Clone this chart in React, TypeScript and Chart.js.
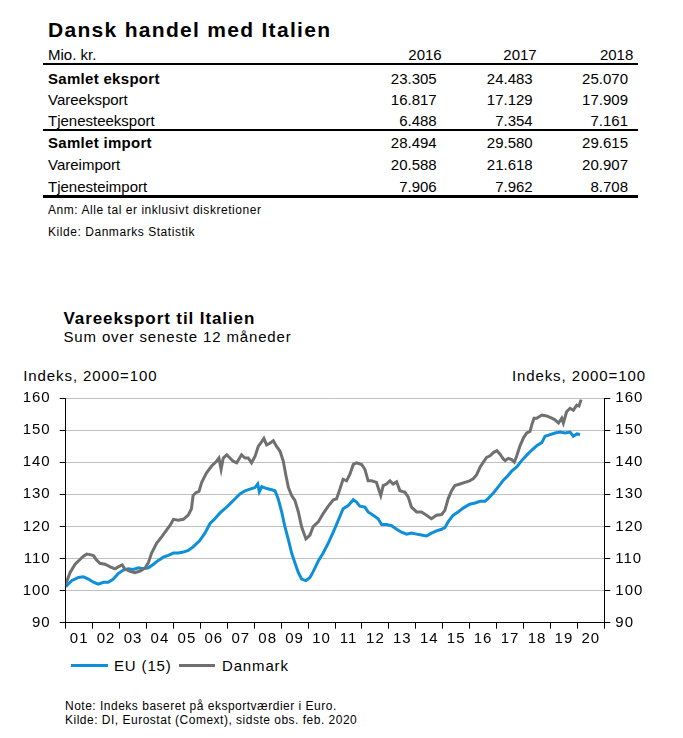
import React, { useEffect, useRef } from "react";
import { Chart, registerables } from "chart.js";

Chart.register(...registerables);

// ---------- Table data ----------
const tableTitle = "Dansk handel med Italien";
const tableUnit = "Mio. kr.";
const tableYears = ["2016", "2017", "2018"];
const rowLabels = ["Samlet eksport", "Vareeksport", "Tjenesteeksport", "Samlet import", "Vareimport", "Tjenesteimport"];
const rowBold = [true, false, false, true, false, false];
const samletEksport = [23305, 24483, 25070];
const vareeksport = [16817, 17129, 17909];
const tjenesteeksport = [6488, 7354, 7161];
const samletImport = [28494, 29580, 29615];
const vareimport = [20588, 21618, 20907];
const tjenesteimport = [7906, 7962, 8708];
const tableRows = [samletEksport, vareeksport, tjenesteeksport, samletImport, vareimport, tjenesteimport];

// ---------- Chart data (decimal years, index 2000=100) ----------
const euYears = [
  2001.0, 2001.22, 2001.47, 2001.66, 2001.84, 2002.03, 2002.21, 2002.4, 2002.58, 2002.77, 2002.95,
  2003.14, 2003.32, 2003.51, 2003.7, 2003.88, 2004.07, 2004.26, 2004.44, 2004.63, 2004.81, 2005.0,
  2005.18, 2005.37, 2005.55, 2005.73, 2005.97, 2006.17, 2006.36, 2006.54, 2006.73, 2006.91, 2007.1,
  2007.29, 2007.47, 2007.66, 2007.84, 2008.03, 2008.13, 2008.19, 2008.28, 2008.46, 2008.65, 2008.77,
  2008.89, 2009.02, 2009.14, 2009.27, 2009.39, 2009.51, 2009.64, 2009.76, 2009.92, 2010.07, 2010.19,
  2010.38, 2010.56, 2010.75, 2010.94, 2011.12, 2011.3, 2011.49, 2011.68, 2011.8, 2011.92, 2012.11,
  2012.23, 2012.42, 2012.6, 2012.73, 2012.91, 2013.1, 2013.29, 2013.47, 2013.66, 2013.84, 2014.03,
  2014.21, 2014.4, 2014.58, 2014.77, 2014.96, 2015.08, 2015.2, 2015.39, 2015.57, 2015.76, 2016.0,
  2016.2, 2016.39, 2016.57, 2016.7, 2016.88, 2017.07, 2017.25, 2017.38, 2017.56, 2017.75, 2017.93,
  2018.12, 2018.31, 2018.49, 2018.68, 2018.8, 2018.99, 2019.17, 2019.36, 2019.54, 2019.73, 2019.85,
  2019.98, 2020.1,
];
const euValues = [
  101.2, 103.1, 104.1, 104.3, 103.6, 102.6, 102.0, 102.6, 102.6, 103.6, 105.3,
  106.4, 106.8, 106.6, 107.1, 106.8, 107.1, 108.2, 109.4, 110.4, 111.0, 111.7,
  111.7, 112.0, 112.5, 113.6, 115.5, 117.9, 120.9, 122.4, 124.2, 125.5, 127.0,
  128.6, 130.1, 131.1, 131.6, 132.1, 133.2, 130.8, 132.4, 131.8, 131.4, 131.1,
  128.6, 124.5, 119.9, 115.8, 111.7, 108.7, 105.6, 103.6, 103.1, 104.1, 105.9,
  109.2, 111.7, 114.8, 118.3, 121.9, 125.5, 126.5, 128.3, 127.6, 126.3, 126.0,
  124.5, 123.5, 122.4, 120.6, 120.6, 120.2, 119.1, 118.2, 117.6, 117.9, 117.6,
  117.3, 117.0, 117.9, 118.6, 119.1, 119.6, 121.4, 123.5, 124.5, 125.7, 126.9,
  127.3, 127.8, 127.8, 128.8, 130.4, 132.4, 134.4, 135.4, 137.2, 138.5, 140.5,
  142.2, 143.8, 145.1, 146.1, 148.1, 148.6, 149.1, 149.4, 149.1, 149.4, 148.1,
  148.8, 148.6,
];
const dkYears = [
  2001.0, 2001.16, 2001.35, 2001.53, 2001.66, 2001.78, 2001.9, 2002.03, 2002.13, 2002.27, 2002.46,
  2002.65, 2002.83, 2002.95, 2003.1, 2003.2, 2003.39, 2003.57, 2003.76, 2003.95, 2004.07, 2004.19,
  2004.38, 2004.57, 2004.75, 2004.88, 2005.0, 2005.18, 2005.37, 2005.55, 2005.67, 2005.73, 2005.83,
  2005.95, 2006.05, 2006.23, 2006.42, 2006.6, 2006.69, 2006.77, 2006.85, 2006.98, 2007.1, 2007.22,
  2007.35, 2007.53, 2007.66, 2007.78, 2007.9, 2008.03, 2008.15, 2008.28, 2008.36, 2008.46, 2008.58,
  2008.71, 2008.83, 2008.96, 2009.08, 2009.17, 2009.27, 2009.39, 2009.51, 2009.64, 2009.76, 2009.92,
  2010.07, 2010.19, 2010.38, 2010.56, 2010.75, 2010.94, 2011.06, 2011.18, 2011.3, 2011.43, 2011.55,
  2011.68, 2011.8, 2011.99, 2012.11, 2012.23, 2012.36, 2012.54, 2012.7, 2012.79, 2012.91, 2013.04,
  2013.16, 2013.29, 2013.41, 2013.6, 2013.72, 2013.84, 2014.03, 2014.21, 2014.4, 2014.58, 2014.77,
  2014.96, 2015.08, 2015.2, 2015.33, 2015.45, 2015.64, 2015.82, 2016.0, 2016.14, 2016.26, 2016.39,
  2016.51, 2016.63, 2016.76, 2016.88, 2017.01, 2017.13, 2017.25, 2017.32, 2017.44, 2017.56, 2017.66,
  2017.75, 2017.87, 2018.0, 2018.12, 2018.24, 2018.31, 2018.39, 2018.49, 2018.68, 2018.86, 2019.05,
  2019.17, 2019.3, 2019.42, 2019.48, 2019.6, 2019.73, 2019.85, 2019.98, 2020.06, 2020.14,
];
const dkValues = [
  102.0, 105.6, 108.2, 109.7, 110.7, 111.4, 111.2, 110.9, 109.7, 108.5, 108.2,
  107.4, 106.8, 107.4, 108.0, 106.7, 106.0, 105.6, 106.1, 107.1, 108.7, 111.7,
  114.8, 116.8, 118.9, 120.4, 122.2, 121.9, 122.2, 123.5, 125.5, 129.6, 130.5,
  130.9, 133.7, 136.7, 138.8, 140.3, 141.3, 137.8, 141.3, 142.3, 141.3, 140.3,
  139.8, 142.3, 141.3, 141.3, 139.8, 141.8, 144.9, 146.4, 147.4, 145.4, 145.9,
  146.7, 144.9, 143.4, 140.3, 136.2, 132.1, 129.6, 128.1, 124.5, 119.9, 116.1,
  117.3, 119.9, 121.4, 124.0, 126.3, 128.3, 128.6, 131.6, 134.7, 134.2, 136.2,
  139.3, 139.8, 139.3, 137.8, 134.2, 134.2, 133.7, 129.6, 132.7, 133.2, 134.2,
  133.2, 133.9, 131.1, 130.6, 129.1, 126.0, 124.5, 124.5, 123.5, 122.4, 123.5,
  123.7, 125.0, 128.6, 131.1, 132.7, 133.2, 133.7, 134.2, 134.9, 136.1, 138.5,
  140.0, 141.5, 142.0, 143.0, 143.6, 142.5, 141.0, 140.5, 141.2, 140.8, 140.0,
  142.0, 145.1, 147.6, 149.1, 149.6, 151.7, 153.7, 153.7, 154.7, 154.4, 153.7,
  153.2, 152.2, 153.7, 152.2, 155.7, 156.8, 156.2, 157.8, 157.5, 159.5,
];
const yearBoundaries = [2001, 2002, 2003, 2004, 2005, 2006, 2007, 2008, 2009, 2010, 2011, 2012, 2013, 2014, 2015, 2016, 2017, 2018, 2019, 2020, 2021];
const xTickLabels = ["01", "02", "03", "04", "05", "06", "07", "08", "09", "10", "11", "12", "13", "14", "15", "16", "17", "18", "19", "20"];
const yTicks = [90, 100, 110, 120, 130, 140, 150, 160];

const FONT = "'Liberation Sans', Arial, Helvetica, sans-serif";
const EU_COLOR = "#0d8fd9";
const DK_COLOR = "#707070";
const W = 683;

function fmt(n: number): string {
  return n.toString().replace(/\B(?=(\d{3})+(?!\d))/g, ".");
}

type TProps = { x?: number; r?: number; cy: number; size: number; bold?: boolean; ls?: number; children: React.ReactNode };
function T({ x, r, cy, size, bold, ls, children }: TProps) {
  const style: React.CSSProperties = {
    position: "absolute",
    top: cy - 0.4885 * size,
    fontSize: size,
    lineHeight: `${size}px`,
    fontFamily: FONT,
    fontWeight: bold ? 700 : 400,
    whiteSpace: "nowrap",
    color: "#000",
    letterSpacing: ls ? `${ls}px` : undefined,
  };
  if (r !== undefined) style.right = W - r;
  else style.left = x;
  return <div style={style}>{children}</div>;
}

function HLine({ y, h }: { y: number; h: number }) {
  return <div style={{ position: "absolute", left: 43, width: 595, top: y, height: h, background: "#000" }} />;
}

const headerRight = [441.7, 536.7, 633.3];
const valueRight = [436.7, 532.7, 628];
const rowCy = [78.3, 99.3, 120, 142.3, 164, 186.7];

function LineChart() {
  const ref = useRef<HTMLCanvasElement>(null);
  useEffect(() => {
    const canvas = ref.current;
    if (!canvas) return;
    const labelPos = yearBoundaries.slice(0, -1).map((v) => v + 0.5);
    const tickFont = { size: 15, family: FONT };
    const spacingPlugin = {
      id: "spacing",
      beforeDraw(chart: any) {
        try {
          chart.ctx.letterSpacing = "1px";
        } catch (e) {}
      },
    };
    const chart = new Chart(canvas, {
      type: "line",
      data: {
        datasets: [
          {
            label: "Danmark",
            data: dkYears.map((x, i) => ({ x, y: dkValues[i] })),
            borderColor: DK_COLOR,
            borderWidth: 3,
            pointRadius: 0,
            tension: 0,
            fill: false,
          },
          {
            label: "EU (15)",
            data: euYears.map((x, i) => ({ x, y: euValues[i] })),
            borderColor: EU_COLOR,
            borderWidth: 3,
            pointRadius: 0,
            tension: 0,
            fill: false,
          },
        ],
      },
      options: {
        animation: false,
        responsive: false,
        maintainAspectRatio: false,
        layout: { padding: { top: 12.7, bottom: 0.3, left: 0, right: 0 } },
        plugins: { legend: { display: false }, tooltip: { enabled: false } },
        scales: {
          x: {
            type: "linear",
            position: "bottom",
            weight: 0,
            min: 2001,
            max: 2021,
            afterBuildTicks: (s: any) => {
              s.ticks = yearBoundaries.map((v) => ({ value: v }));
            },
            ticks: { display: false },
            grid: { drawOnChartArea: false, drawTicks: true, tickLength: 6, color: "#000", tickColor: "#000", lineWidth: 1 },
            border: { display: true, color: "#000", width: 1 },
            afterFit: (s: any) => {
              s.height = 6;
            },
          },
          x2: {
            type: "linear",
            position: "bottom",
            weight: 1,
            min: 2001,
            max: 2021,
            afterBuildTicks: (s: any) => {
              s.ticks = labelPos.map((v) => ({ value: v }));
            },
            ticks: {
              autoSkip: false,
              maxRotation: 0,
              minRotation: 0,
              padding: 1,
              color: "#000",
              font: tickFont,
              callback: (_v: any, i: number) => xTickLabels[i],
            },
            grid: { display: false, drawTicks: false },
            border: { display: false },
            afterFit: (s: any) => {
              s.height = 22;
            },
          },
          y: {
            type: "linear",
            position: "left",
            min: 90,
            max: 160,
            afterBuildTicks: (s: any) => {
              s.ticks = yTicks.map((v) => ({ value: v }));
            },
            ticks: { padding: 9, color: "#000", font: tickFont },
            grid: {
              color: (c: any) => (c.tick && c.tick.value === 90 ? "rgba(0,0,0,0)" : "#c0c0c0"),
              tickColor: "#000",
              tickLength: 6,
              lineWidth: 1,
            },
            border: { color: "#000", width: 1 },
            afterFit: (s: any) => {
              s.width = 65.7;
            },
          },
          y2: {
            type: "linear",
            position: "right",
            min: 90,
            max: 160,
            afterBuildTicks: (s: any) => {
              s.ticks = yTicks.map((v) => ({ value: v }));
            },
            ticks: { padding: 5, color: "#000", font: tickFont },
            grid: { drawOnChartArea: false, tickColor: "#000", color: "#000", tickLength: 6, lineWidth: 1 },
            border: { color: "#000", width: 1 },
            afterFit: (s: any) => {
              s.width = 78.7;
            },
          },
        },
      } as any,
      plugins: [spacingPlugin],
    });
    return () => chart.destroy();
  }, []);
  return (
    <canvas
      ref={ref}
      width={W}
      height={271}
      style={{ position: "absolute", left: 0, top: 380, width: W, height: 271 }}
    />
  );
}

export default function App() {
  return (
    <div style={{ position: "absolute", left: 0, top: 0, width: W, height: 738, background: "#fff", overflow: "hidden" }}>
      {/* Table */}
      <T x={48} cy={29.2} size={21} bold ls={1.3}>{tableTitle}</T>
      <T x={48} cy={54} size={15}>{tableUnit}</T>
      {tableYears.map((y, i) => (
        <T key={y} r={headerRight[i]} cy={54} size={15}>{y}</T>
      ))}
      <HLine y={63.3} h={2} />
      {rowLabels.map((lab, i) => (
        <React.Fragment key={lab}>
          <T x={48} cy={rowCy[i]} size={15} bold={rowBold[i]} ls={rowBold[i] ? 0.3 : 0}>{lab}</T>
          {tableRows[i].map((v, j) => (
            <T key={j} r={valueRight[j]} cy={rowCy[i]} size={15}>{fmt(v)}</T>
          ))}
        </React.Fragment>
      ))}
      <HLine y={128.7} h={2} />
      <HLine y={195} h={2.5} />
      <T x={48} cy={210} size={12} ls={0.55}>Anm: Alle tal er inklusivt diskretioner</T>
      <T x={48} cy={231.7} size={12} ls={0.55}>Kilde: Danmarks Statistik</T>

      {/* Chart header */}
      <T x={63.5} cy={318.8} size={17} bold ls={0.9}>Vareeksport til Italien</T>
      <T x={63.5} cy={336} size={15} ls={0.85}>Sum over seneste 12 måneder</T>
      <T x={23.3} cy={375} size={15} ls={0.9}>Indeks, 2000=100</T>
      <T r={646} cy={375} size={15} ls={0.9}>Indeks, 2000=100</T>

      <LineChart />

      {/* Legend */}
      <div style={{ position: "absolute", left: 71, top: 663.5, width: 37, height: 3, background: EU_COLOR }} />
      <T x={114} cy={665} size={15} ls={0.85}>EU (15)</T>
      <div style={{ position: "absolute", left: 179, top: 663.5, width: 36, height: 3, background: DK_COLOR }} />
      <T x={222} cy={665} size={15} ls={0.85}>Danmark</T>

      {/* Notes */}
      <T x={65} cy={706} size={12} ls={0.5}>Note: Indeks baseret på eksportværdier i Euro.</T>
      <T x={65} cy={720} size={12} ls={0.5}>Kilde: DI, Eurostat (Comext), sidste obs. feb. 2020</T>
    </div>
  );
}
